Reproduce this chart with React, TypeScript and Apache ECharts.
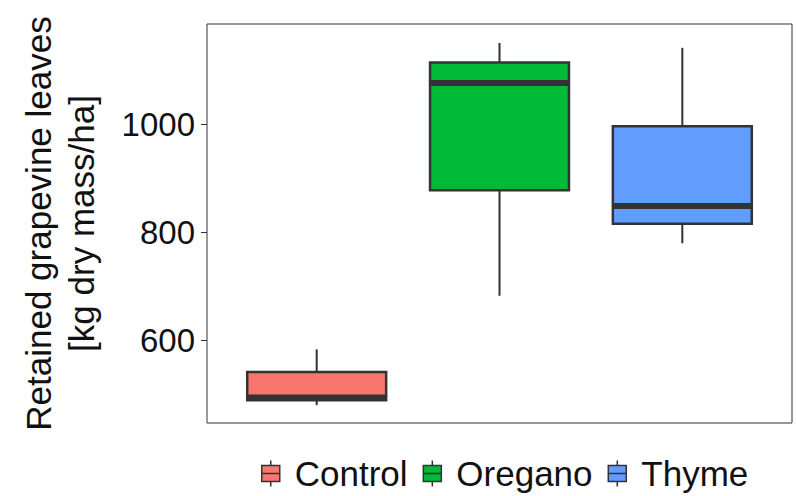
import React, { useEffect, useRef } from "react";
import * as echarts from "echarts";

const categories = ["Control", "Oregano", "Thyme"];
const lowerWhisker = [481, 683, 780];
const lowerQuartile = [490, 878, 816];
const medians = [495, 1076, 849];
const upperQuartile = [542, 1114, 996];
const upperWhisker = [584, 1150, 1141];
const fillColors = ["#F8766D", "#00BA38", "#619CFF"];
const yTicks = [600, 800, 1000];

const BOX_WIDTH = 0.76;
const EDGE = "#333333";
const FONT = "Liberation Sans, Arial, sans-serif";

export default function App() {
  const ref = useRef<HTMLDivElement>(null);

  useEffect(() => {
    if (!ref.current) return;
    const chart = echarts.init(ref.current, null, { renderer: "svg" });

    const renderItem = (params: any, api: any) => {
      const x = api.value(0);
      const pLow = api.coord([x, api.value(1)]);
      const pQ1 = api.coord([x, api.value(2)]);
      const pMed = api.coord([x, api.value(3)]);
      const pQ3 = api.coord([x, api.value(4)]);
      const pHigh = api.coord([x, api.value(5)]);
      const half = api.size([BOX_WIDTH, 0])[0] / 2;
      const cx = pQ1[0];
      const color = api.visual("color");
      return {
        type: "group",
        children: [
          {
            type: "line",
            shape: { x1: cx, y1: pLow[1], x2: cx, y2: pQ1[1] },
            style: { stroke: EDGE, lineWidth: 2 },
          },
          {
            type: "line",
            shape: { x1: cx, y1: pHigh[1], x2: cx, y2: pQ3[1] },
            style: { stroke: EDGE, lineWidth: 2 },
          },
          {
            type: "rect",
            shape: { x: cx - half, y: pQ3[1], width: half * 2, height: pQ1[1] - pQ3[1] },
            style: { fill: color, stroke: EDGE, lineWidth: 2.5 },
          },
          {
            type: "line",
            shape: { x1: cx - half, y1: pMed[1], x2: cx + half, y2: pMed[1] },
            style: { stroke: EDGE, lineWidth: 6 },
          },
        ],
      };
    };

    const series = categories.map((name, i) => ({
      name,
      type: "custom",
      renderItem,
      itemStyle: { color: fillColors[i] },
      encode: { x: 0, y: [1, 2, 3, 4, 5] },
      data: [[i + 1, lowerWhisker[i], lowerQuartile[i], medians[i], upperQuartile[i], upperWhisker[i]]],
    }));

    chart.setOption({
      animation: false,
      backgroundColor: "#ffffff",
      grid: {
        left: 207,
        right: 4,
        top: 24,
        bottom: 73,
        show: true,
        borderColor: "#333333",
        borderWidth: 1,
        containLabel: false,
      },
      xAxis: {
        type: "value",
        min: 0.4,
        max: 3.6,
        show: false,
      },
      yAxis: {
        type: "value",
        min: 448,
        max: 1185,
        name: "Retained grapevine leaves\n[kg dry mass/ha]",
        nameLocation: "middle",
        nameRotate: 90,
        nameGap: 104,
        nameTextStyle: {
          fontFamily: FONT,
          fontSize: 35,
          color: "#111",
          lineHeight: 43,
          align: "center",
        },
        axisLine: { show: false },
        axisTick: {
          show: true,
          length: 6,
          customValues: yTicks,
          lineStyle: { color: "#333", width: 1 },
        },
        axisLabel: {
          customValues: yTicks,
          formatter: (v: number) => String(v),
          margin: 12,
          fontFamily: FONT,
          fontSize: 33,
          color: "#111",
        },
        splitLine: { show: false },
      },
      legend: {
        data: categories,
        left: 256,
        top: 451,
        itemWidth: 18,
        itemHeight: 26,
        itemGap: 15,
        icon: "path://M9,0L9,5M0,5L18,5L18,21L0,21ZM0,13L18,13M9,21L9,26",
        itemStyle: { borderColor: "#333", borderWidth: 1.5 },
        textStyle: {
          fontFamily: FONT,
          fontSize: 35,
          color: "#111",
          padding: [0, 0, 0, 10],
        },
      },
      series,
    });

    return () => chart.dispose();
  }, []);

  return <div ref={ref} style={{ width: 796, height: 496, position: "absolute", left: 0, top: 0 }} />;
}
